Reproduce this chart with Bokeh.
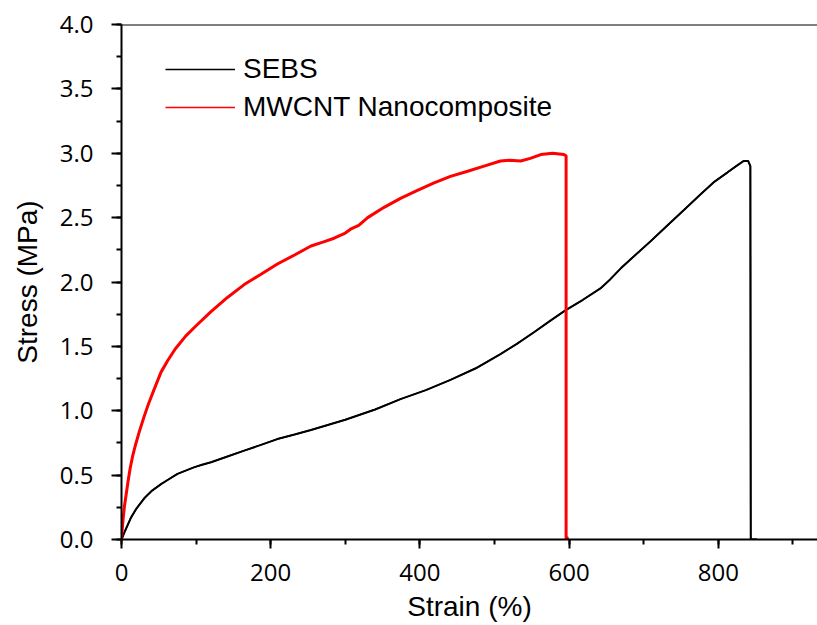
from bokeh.plotting import figure
from bokeh.models import (Range1d, SingleIntervalTicker, PrintfTickFormatter,
                          Legend, LegendItem, Span)
from bokeh.embed import file_html
from bokeh.resources import INLINE

# ---- data ----
strain_sebs = [0, 5, 12.7, 20, 30.5, 41, 53, 64, 75, 86, 97, 108, 120, 142, 164.5,
               187, 209, 232, 254, 300, 340, 374, 408, 441, 475, 508, 530, 553, 575,
               595, 618, 642, 655, 670, 687, 710, 732, 754, 776, 795, 812, 824, 834,
               840, 843, 843.5, 852]
stress_sebs = [0, 0.07, 0.17, 0.24, 0.32, 0.38, 0.43, 0.47, 0.51, 0.535, 0.56, 0.58,
               0.60, 0.645, 0.69, 0.735, 0.78, 0.815, 0.85, 0.93, 1.01, 1.09, 1.16,
               1.24, 1.33, 1.44, 1.52, 1.61, 1.70, 1.78, 1.86, 1.95, 2.02, 2.11, 2.20,
               2.32, 2.44, 2.56, 2.68, 2.78, 2.85, 2.90, 2.94, 2.94, 2.90, 0.0, 0.0]

strain_mwcnt = [0, 1, 2.5, 4, 6, 8.5, 11.5, 15, 19, 24, 30, 36, 44, 53, 62, 72, 86,
                100, 120, 142, 164.5, 187, 209, 232, 254, 270, 285, 300, 307, 318,
                330, 352, 374, 396, 419, 441, 464, 486, 508, 520, 535, 548, 562, 578,
                593, 596, 596, 597, 598]
stress_mwcnt = [0, 0.08, 0.18, 0.26, 0.34, 0.44, 0.55, 0.65, 0.74, 0.84, 0.95, 1.05,
                1.17, 1.30, 1.39, 1.48, 1.58, 1.66, 1.77, 1.88, 1.98, 2.06, 2.14,
                2.21, 2.28, 2.31, 2.34, 2.38, 2.41, 2.44, 2.50, 2.58, 2.65, 2.71, 2.77,
                2.82, 2.86, 2.90, 2.94, 2.945, 2.94, 2.96, 2.99, 3.00, 2.99, 2.98, 0.0,
                0.02, 0.0]

series_names = ["SEBS", "MWCNT Nanocomposite"]
series_colors = ["#000000", "#ff0000"]

x_start, x_end = 0, 933
y_start, y_end = 0, 4.0

p = figure(width=817, height=625, output_backend="svg", toolbar_location=None,
           x_range=Range1d(x_start, x_end), y_range=Range1d(y_start, y_end),
           min_border_left=121, min_border_right=0, min_border_top=24,
           min_border_bottom=86, background_fill_color="white",
           border_fill_color="white", outline_line_color=None)

p.xgrid.visible = False
p.ygrid.visible = False

# thin copies used as legend samples (drawn beneath the main curves)
l1 = p.line(strain_sebs, stress_sebs, line_color=series_colors[0], line_width=1.5)
l2 = p.line(strain_mwcnt, stress_mwcnt, line_color=series_colors[1], line_width=1.5)

r_sebs = p.line(strain_sebs, stress_sebs, line_color=series_colors[0], line_width=2)
r_mw = p.line(strain_mwcnt, stress_mwcnt, line_color=series_colors[1], line_width=3)

legend = Legend(items=[LegendItem(label=series_names[0], renderers=[l1]),
                       LegendItem(label=series_names[1], renderers=[l2])],
                location=(44, 416), padding=0, margin=0, spacing=6,
                glyph_width=70, glyph_height=30, label_height=30,
                label_standoff=8, border_line_color=None,
                background_fill_alpha=0,
                label_text_font="Liberation Sans", label_text_font_size="28px",
                label_text_color="black")
p.add_layout(legend)

# top frame line
p.add_layout(Span(location=y_end, dimension="width", line_color="black",
                  line_width=2))

# axes
for ax in (p.xaxis[0], p.yaxis[0]):
    ax.axis_line_color = "black"
    ax.axis_line_width = 2
    ax.major_tick_line_color = "black"
    ax.major_tick_line_width = 2
    ax.minor_tick_line_color = "black"
    ax.minor_tick_line_width = 2
    ax.major_tick_in = 0
    ax.minor_tick_in = 0
    ax.major_label_text_font = "Open Sans"
    ax.major_label_text_font_size = "24px"
    ax.major_label_text_color = "black"
    ax.axis_label_text_font = "Liberation Sans"
    ax.axis_label_text_font_size = "28px"
    ax.axis_label_text_font_style = "normal"
    ax.axis_label_text_color = "black"

p.xaxis.ticker = SingleIntervalTicker(interval=200, num_minor_ticks=2)
p.yaxis.ticker = SingleIntervalTicker(interval=0.5, num_minor_ticks=2)
p.yaxis.formatter = PrintfTickFormatter(format="%.1f")

p.xaxis.major_tick_out = 9
p.xaxis.minor_tick_out = 5
p.yaxis.major_tick_out = 10
p.yaxis.minor_tick_out = 5
p.xaxis.major_label_standoff = 15
p.yaxis.major_label_standoff = 18
p.xaxis.axis_label = "Strain (%)"
p.yaxis.axis_label = "Stress (MPa)"
p.xaxis.axis_label_standoff = 7
p.yaxis.axis_label_standoff = 14

open("out.html", "w").write(file_html(p, INLINE))
